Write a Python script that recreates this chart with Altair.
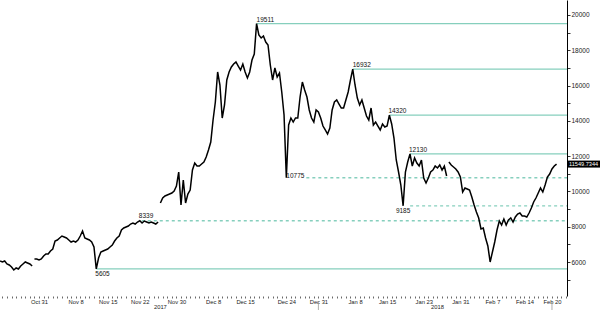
import altair as alt
import pandas as pd

# ---------------- data ----------------
prices = [
    6057, 6000, 6057, 5887, 5830, 5717, 5546, 5660, 5603, 5773, 5887, 6000, 5943, 5887, 5773,
    6170, 6170, 6113, 6170, 6340, 6453, 6453, 6623, 6737, 7190, 7247, 7360, 7473, 7417, 7360,
    7247, 7133, 7190, 7133, 7247, 7473, 7757, 7360, 7303, 7247, 7133, 6850, 5605, 6226, 6566,
    6623, 6680, 6737, 6850, 6963, 7190, 7360, 7473, 7813, 7927, 7983, 8040, 8153, 8210, 8153,
    8267, 8339, 8210, 8323, 8267, 8210, 8267, 8210, 8153, 8267, 9344, 9627, 9741, 9797, 9854,
    9911, 10024, 10307, 11101, 9231, 10648, 9344, 9854, 10081, 11214, 11611, 11441, 11441, 11554, 11668,
    11951, 12348, 12801, 14048, 15069, 16769, 16032, 14162, 14899, 16316, 16769, 17052, 17222, 17336, 17109,
    16882, 17222, 16769, 16429, 16769, 17449, 17789, 19511, 18866, 18696, 18809, 18469, 18299, 17166, 16316,
    16996, 16486, 16712, 15635, 14332, 10775, 13765, 14162, 13935, 14162, 14162, 15352, 16202, 15749, 15352,
    14615, 14162, 13935, 14615, 14502, 14162, 13708, 13482, 13255, 13595, 14615, 15069, 15182, 14955, 14728,
    14728, 15182, 15635, 16316, 16932, 16032, 15295, 14899, 15182, 14728, 14275, 14048, 14728, 13765, 13935,
    13708, 13482, 13822, 13652, 13708, 14320, 13822, 13028, 11781, 11101, 10364, 9185, 11101, 11668, 12130,
    11441, 11895, 11611, 11441, 11781, 10761, 10478, 10761, 11101, 11214, 11441, 11328, 11498, 11214, 11441,
    10874, 11668, 11498, 11384, 11271, 11101, 10818, 9967, 10194, 10137, 10081, 9684, 9231, 8834, 8494,
    7870, 7927, 7360, 6907, 6000, 6567, 7134, 7814, 8324, 8097, 8437, 8097, 8380, 8494, 8267,
    8550, 8720, 8777, 8607, 8607, 8550, 8777, 9061, 9401, 9627, 9911, 10194, 9967, 10364, 10818,
    10988, 11271, 11441, 11549.7344,
]
first_time = "2017-10-22T12:00:00Z"       # series sampled every 12 hours
segment_breaks = ["2017-10-30T00:00:00Z", "2017-11-26T12:00:00Z", "2018-01-28T12:00:00Z"]

level_values = [19511, 16932, 14320, 12130, 10775, 9185, 8339, 5605]
level_dates = [
    "2017-12-17T12:00:00Z", "2018-01-07T12:00:00Z", "2018-01-15T12:00:00Z", "2018-01-20T00:00:00Z",
    "2017-12-24T00:00:00Z", "2018-01-18T12:00:00Z", "2017-11-22T00:00:00Z", "2017-11-12T12:00:00Z",
]

tick_label_dates = [
    "2017-10-31", "2017-11-08", "2017-11-15", "2017-11-22", "2017-11-30", "2017-12-08",
    "2017-12-15", "2017-12-24", "2017-12-31", "2018-01-08", "2018-01-15", "2018-01-23",
    "2018-01-31", "2018-02-07", "2018-02-14", "2018-02-20",
]
year_labels = ["2017", "2018"]
year_label_dates = ["2017-11-26T12:00:00Z", "2018-01-26T00:00:00Z"]
separator_dates = ["2017-12-31T00:00:00Z", "2018-02-20T00:00:00Z"]

y_ticks = list(range(5000, 21000, 1000))

# ---------------- tables ----------------
times = pd.date_range(first_time, periods=len(prices), freq="12h")
breaks = pd.to_datetime(segment_breaks)
seg = [int((breaks <= t).sum()) for t in times]
line_df = pd.DataFrame({
    "date": [t.strftime("%Y-%m-%dT%H:%M:%SZ") for t in times],
    "price": prices,
    "seg": seg,
})

# ---------------- styles ----------------
W, H = 567, 296
TEAL = "#86cfbd"
FONT = "Liberation Sans"

xscale = alt.Scale(
    type="utc",
    domain=[alt.DateTime(year=2017, month=10, date=22, hours=11, minutes=30, utc=True),
            alt.DateTime(year=2018, month=2, date=23, hours=6, minutes=45, utc=True)],
    nice=False,
)
yscale = alt.Scale(domain=[4073, 20850], nice=False, zero=False)

day_ticks = [alt.DateTime(year=d.year, month=d.month, date=d.day, utc=True)
             for d in pd.date_range("2017-10-23", "2018-02-23", freq="D")]
label_list = ",".join("'%s'" % d for d in tick_label_dates)
x_axis = alt.Axis(
    orient="bottom", values=day_ticks, domain=False, grid=False, title=None,
    tickSize=2, tickColor="#444", tickWidth=0.8,
    labelExpr="indexof([%s], utcFormat(datum.value, '%%Y-%%m-%%d')) >= 0 ? utcFormat(datum.value, '%%b %%-d') : ''" % label_list,
    labelOverlap=False, labelFlush=False, labelPadding=0, labelFontSize=5.8,
    labelFont=FONT, labelColor="#222",
)
y_axis = alt.Axis(
    orient="right", values=y_ticks, format="d", grid=False, title=None,
    labelExpr="datum.value % 2000 == 0 ? datum.label : ''",
    domainColor="#000", domainWidth=1, tickColor="#000", tickSize=3, tickWidth=0.8,
    labelPadding=1, labelFontSize=6.5, labelFont=FONT, labelColor="#222",
    labelOverlap=False, labelFlush=False,
)


def X(field="date:T"):
    return alt.X(field, scale=xscale, axis=x_axis)


def Y(field):
    return alt.Y(field, scale=yscale, axis=y_axis)


level_style = {
    19511: dict(dash=False, align="left", baseline="bottom", dx=0, dy=-1, off=0),
    16932: dict(dash=False, align="left", baseline="bottom", dx=0, dy=-1, off=0),
    14320: dict(dash=False, align="left", baseline="bottom", dx=-1, dy=-1, off=0),
    12130: dict(dash=False, align="left", baseline="bottom", dx=-1, dy=-1, off=0),
    10775: dict(dash=True, align="left", baseline="middle", dx=0, dy=-1.5, off=20),
    9185: dict(dash=True, align="center", baseline="top", dx=0, dy=2, off=7),
    8339: dict(dash=True, align="left", baseline="bottom", dx=-1, dy=-2, off=2),
    5605: dict(dash=False, align="left", baseline="top", dx=-1, dy=2, off=0),
}

layers = []

line = alt.Chart(line_df).mark_line(color="#000", strokeWidth=1.5, strokeJoin="miter").encode(
    x=X(), y=Y("price:Q"), detail="seg:N",
)

for val, d in zip(level_values, level_dates):
    st = level_style[val]
    df = pd.DataFrame({"date": [d], "level": [val], "label": [str(val)]})
    rule_kw = dict(color=TEAL, strokeWidth=1.3, xOffset=st["off"])
    if st["dash"]:
        rule_kw["strokeDash"] = [3, 3]
    layers.append(
        alt.Chart(df).mark_rule(**rule_kw).encode(
            x=X(), x2=alt.value(W), y=Y("level:Q"),
        )
    )

layers.append(line)

for val, d in zip(level_values, level_dates):
    st = level_style[val]
    df = pd.DataFrame({"date": [d], "level": [val], "label": [str(val)]})
    layers.append(
        alt.Chart(df).mark_text(
            align=st["align"], baseline=st["baseline"], dx=st["dx"], dy=st["dy"],
            fontSize=6.5, font=FONT, color="#111",
        ).encode(x=X(), y=Y("level:Q"), text="label:N")
    )

year_df = pd.DataFrame({"date": year_label_dates, "label": year_labels})
layers.append(
    alt.Chart(year_df).mark_text(fontSize=5.8, font=FONT, color="#222", baseline="middle").encode(
        x=X(), y=alt.value(H + 11), text="label:N",
    )
)
sep_df = pd.DataFrame({"date": separator_dates})
layers.append(
    alt.Chart(sep_df).mark_rule(color="#999", strokeWidth=0.8).encode(
        x=X(), y=alt.value(H + 6), y2=alt.value(H + 14),
    )
)

last_df = pd.DataFrame({"price": [prices[-1]], "label": ["%.4f" % prices[-1]]})
layers.append(
    alt.Chart(last_df).mark_tick(orient="horizontal", color="#000", thickness=7, size=32, opacity=1).encode(
        x=alt.value(W + 17), y=Y("price:Q"),
    )
)
layers.append(
    alt.Chart(last_df).mark_text(align="left", baseline="middle", fontSize=5.6, font=FONT,
                                 color="#fff").encode(
        x=alt.value(W + 2), y=Y("price:Q"), text="label:N",
    )
)

chart = alt.layer(*layers).properties(
    width=W, height=H,
    autosize=alt.AutoSizeParams(type="none"),
    padding={"left": 0, "top": 0, "right": 33, "bottom": 14},
    background="white",
).configure_view(stroke=None)

chart.save("out.html", embed_options={"renderer": "svg", "actions": False})
